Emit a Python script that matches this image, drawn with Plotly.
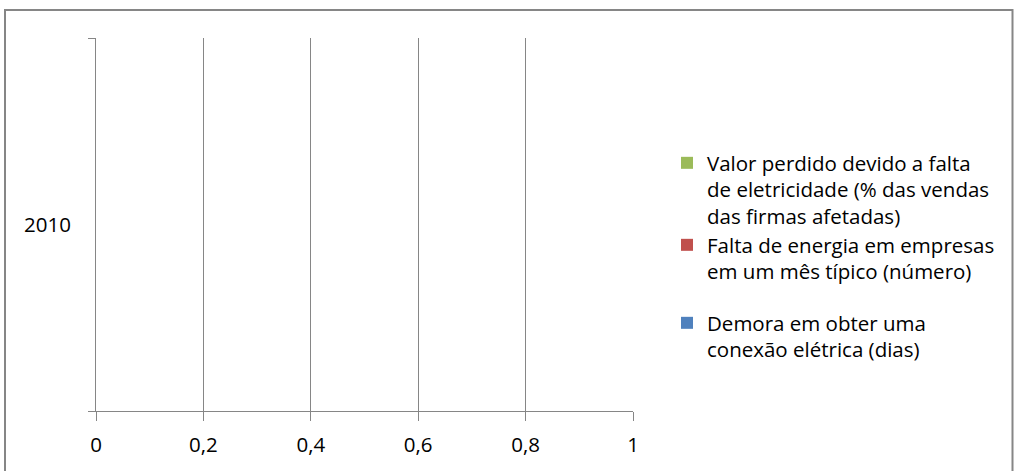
import plotly.graph_objects as go

categories = ["2010"]
series_names = [
    "Demora em obter uma<br>conexão elétrica (dias)",
    "Falta de energia em empresas<br>em um mês típico (número)",
    "Valor perdido devido a falta<br>de eletricidade (% das vendas<br>das firmas afetadas)",
]
series_values = [[None], [None], [None]]
series_colors = ["#4F81BD", "#C0504D", "#9BBB59"]
x_ticks = [0, 0.2, 0.4, 0.6, 0.8, 1]

FONT = "Open Sans"
FS = 20.5
GRAY = "#868686"

W, H = 1014, 471
L, R, T, B = 96, 633, 38, 411  # plot area in pixels
PW, PH = R - L, B - T


def px_x(x):
    return (x - L) / PW


def px_y(y):
    return (B - y) / PH


legend_tops = [322, 244, 162]  # pixel y of first text line centre for each series
legend_ids = ["legend", "legend2", "legend3"]

fig = go.Figure()
for name, vals, col, lid in zip(series_names, series_values, series_colors, legend_ids):
    fig.add_trace(go.Bar(
        y=categories, x=vals, name=name, orientation="h",
        marker=dict(color=col, line=dict(width=0)),
        showlegend=True, legend=lid,
    ))

legend_common = dict(
    xanchor="left", yanchor="top", valign="top",
    xref="container", yref="container",
    font=dict(family=FONT, size=FS, color="black"),
    bgcolor="rgba(0,0,0,0)", borderwidth=0, itemwidth=30,
)
lay_legends = {}
for lid, ytop in zip(legend_ids, legend_tops):
    lay_legends[lid] = dict(legend_common, x=667 / W, y=1 - (ytop - 19) / H)

fig.update_layout(
    width=W, height=H,
    margin=dict(l=L, r=W - R, t=T, b=H - B, autoexpand=False),
    paper_bgcolor="white", plot_bgcolor="white",
    separators=", ",
    font=dict(family=FONT, size=FS, color="black"),
    barmode="group",
    showlegend=True,
    xaxis=dict(
        range=[0, 1], tickvals=x_ticks,
        showgrid=True, gridcolor=GRAY, gridwidth=1,
        showline=True, linecolor=GRAY, linewidth=1,
        ticks="outside", ticklen=9, tickcolor=GRAY,
        zeroline=False, fixedrange=True,
        tickfont=dict(family=FONT, size=FS),
        ticklabelstandoff=6,
    ),
    yaxis=dict(
        type="category", categoryarray=categories, range=[-0.5, 0.5],
        showgrid=False, showline=True, linecolor=GRAY, linewidth=1,
        ticks="outside", ticklen=7, tickcolor=GRAY, tickson="boundaries",
        zeroline=False, fixedrange=True,
        tickfont=dict(family=FONT, size=FS),
        ticklabelstandoff=20,
    ),
    shapes=[dict(
        type="rect", xref="paper", yref="paper",
        x0=px_x(5), x1=px_x(1012.5),
        y0=px_y(480), y1=px_y(10),
        line=dict(color=GRAY, width=2), fillcolor="rgba(0,0,0,0)", layer="below",
    )],
    **lay_legends,
)

fig.write_html(
    "out.html",
    config={"displayModeBar": False},
    post_script="document.body.style.margin='0';",
)
